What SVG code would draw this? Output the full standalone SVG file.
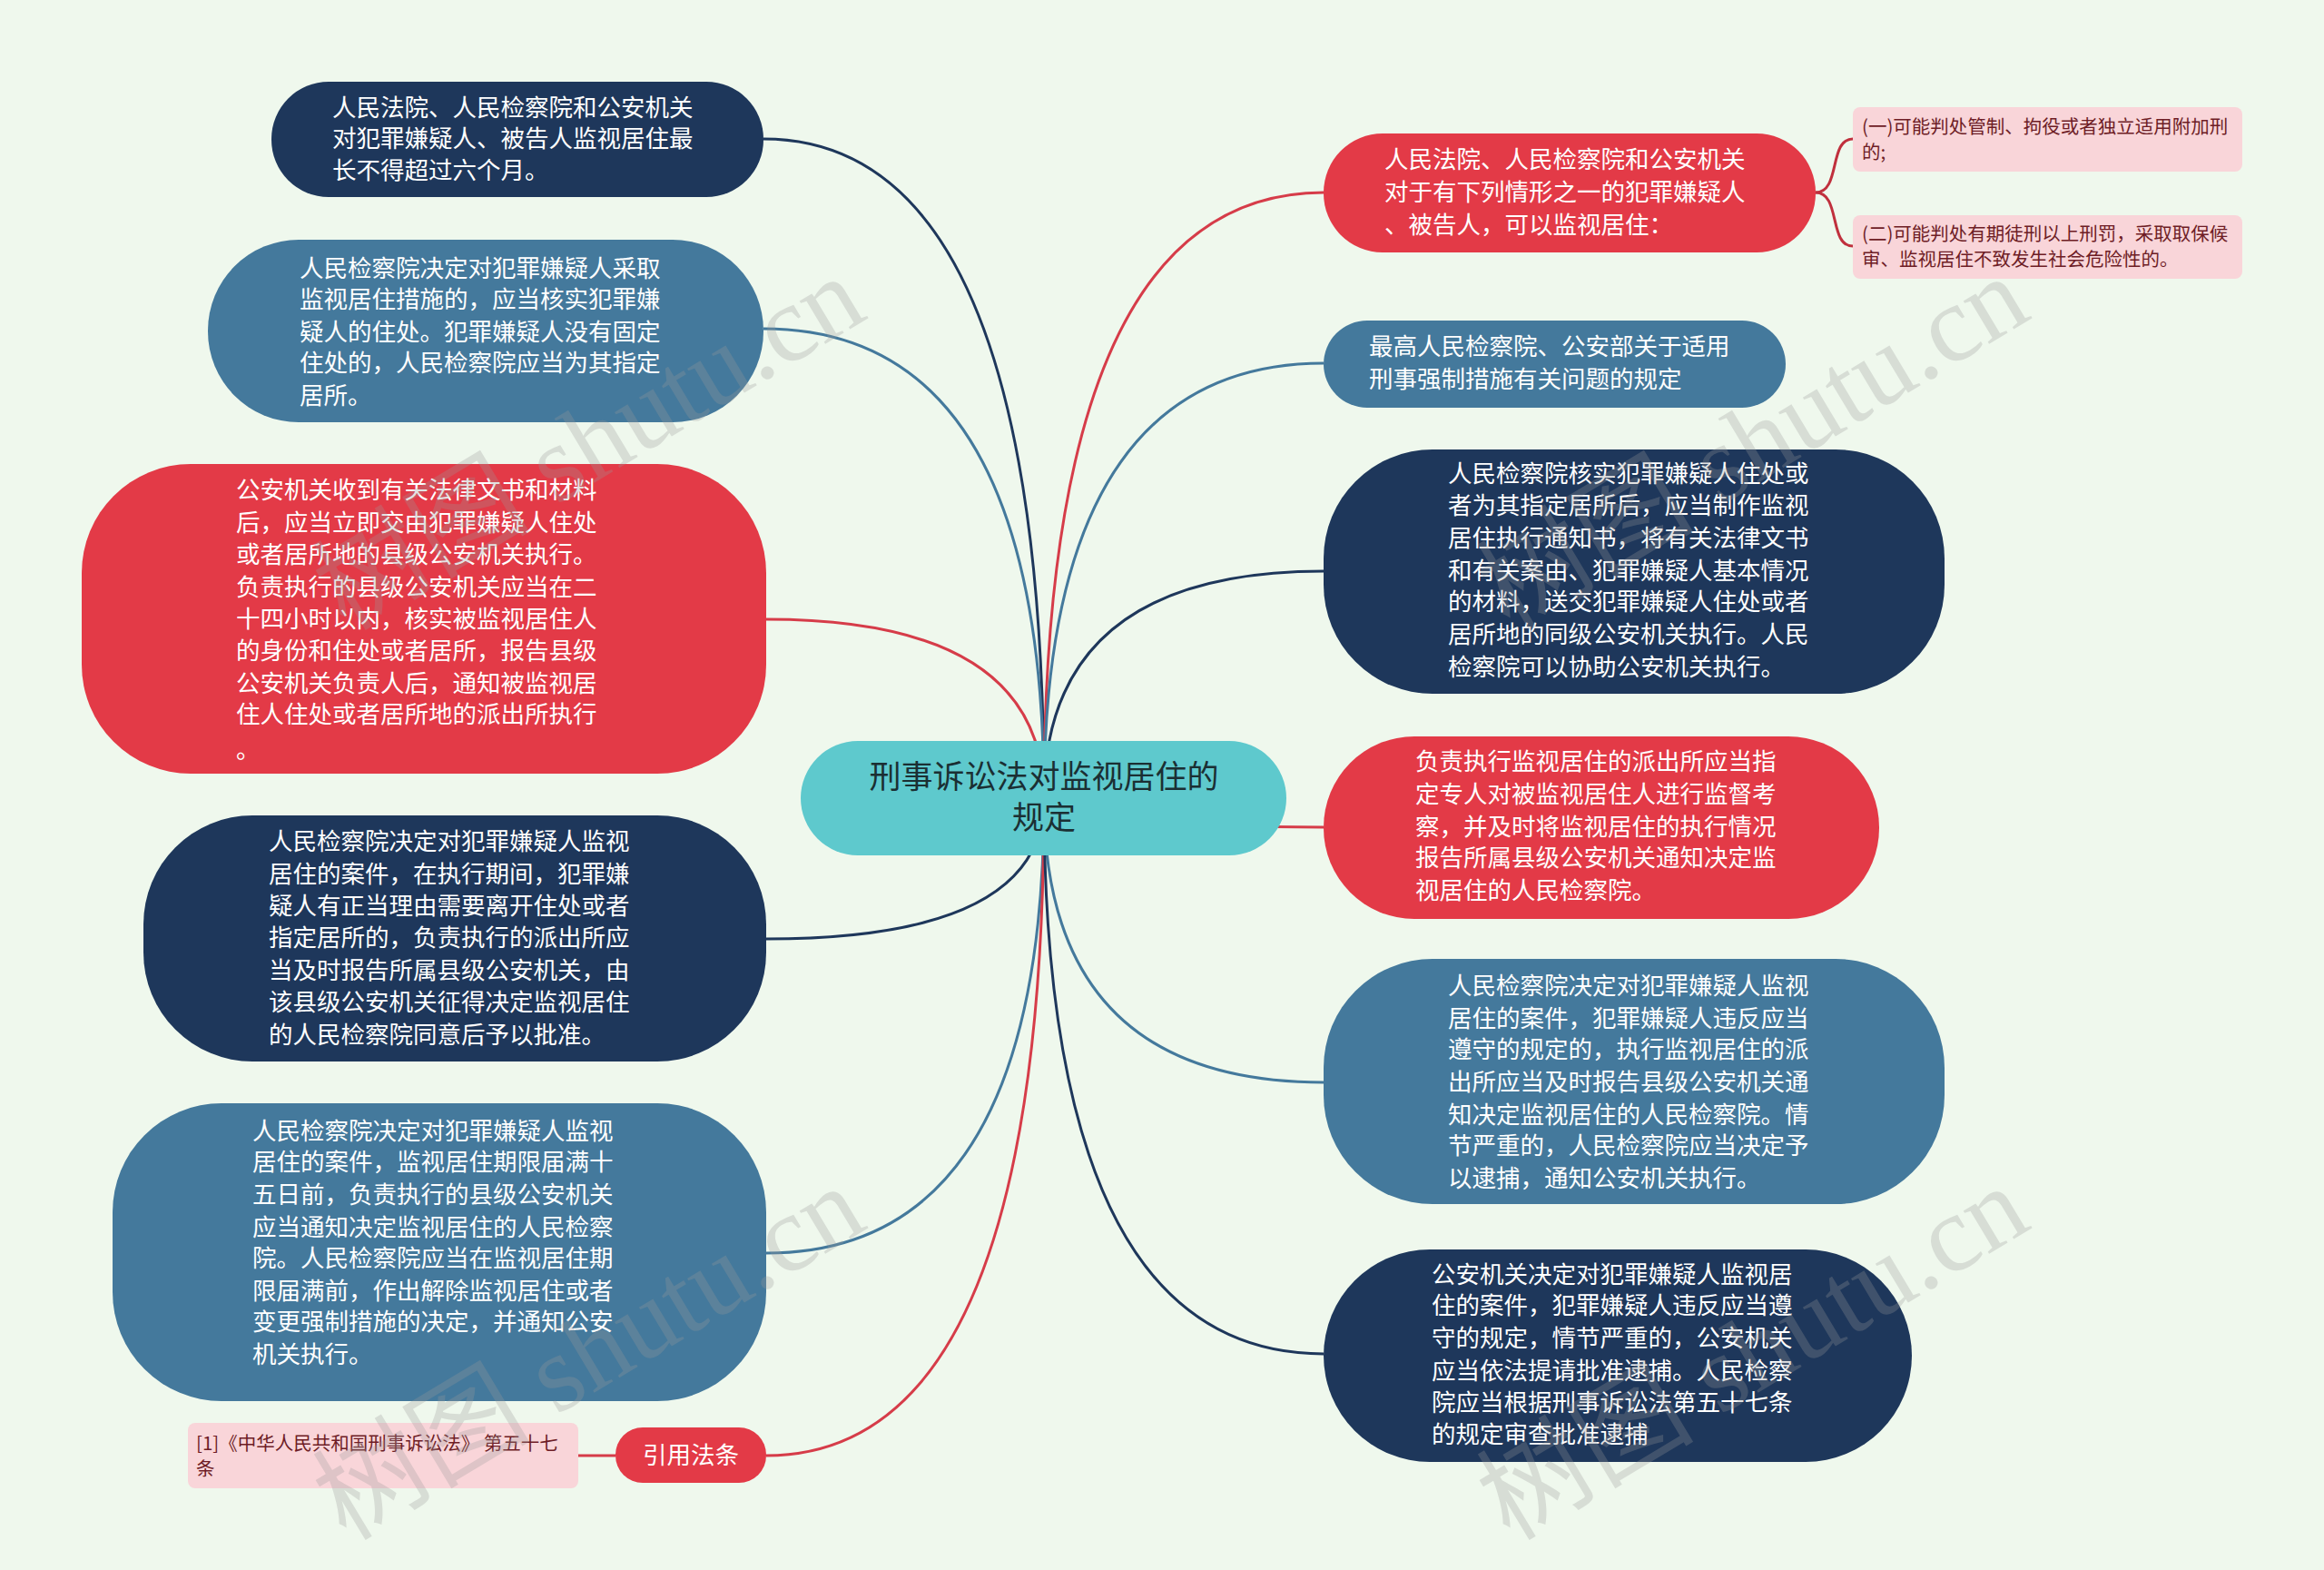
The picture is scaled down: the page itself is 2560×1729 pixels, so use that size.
<svg xmlns="http://www.w3.org/2000/svg" width="2560" height="1729" viewBox="0 0 2560 1729">
<style>
.bg{fill:#eff8ed}
.navy{fill:#1e375b}
.blue{fill:#44799c}
.red{fill:#e33a47}
.teal{fill:#5ec9cd}
.pink{fill:#f9d5d9}
.t{font-family:"Noto Sans CJK SC","Noto Sans",sans-serif;font-size:26.5px;fill:#ffffff}
.tc{font-family:"Noto Sans CJK SC","Noto Sans",sans-serif;font-size:35px;fill:#1b2f33;text-anchor:middle}
.tp{font-family:"Noto Sans CJK SC","Noto Sans",sans-serif;font-size:20.5px;fill:#6e1d26}
.c{fill:none;stroke-width:3}
.cn{stroke:#1e375b}
.cb{stroke:#44799c}
.cr{stroke:#d63c49}
.wm{font-family:"Liberation Serif","Noto Sans CJK SC",serif;font-size:120px;fill:#9a9a9a;opacity:0.28}
</style>
<rect class="bg" x="0" y="0" width="2560" height="1729"/>
<g id="connectors">
<path class="c cn" d="M1150 880 Q1150 153 841 153"/>
<path class="c cb" d="M1150 880 Q1150 362 841 362"/>
<path class="c cr" d="M1150 880 Q1150 682 844 682"/>
<path class="c cn" d="M1150 880 Q1150 1034 844 1034"/>
<path class="c cb" d="M1150 880 Q1150 1380 844 1380"/>
<path class="c cr" d="M1150 880 Q1150 1603 844 1603"/>
<path class="c cr" d="M1150 880 Q1150 212 1458 212"/>
<path class="c cb" d="M1150 880 Q1150 400 1458 400"/>
<path class="c cn" d="M1150 880 Q1150 629 1458 629"/>
<path class="c cr" d="M1150 880 Q1150 911 1458 911"/>
<path class="c cb" d="M1150 880 Q1150 1192 1458 1192"/>
<path class="c cn" d="M1150 880 Q1150 1491 1458 1491"/>
<path class="c cr" d="M678 1603 L637 1603"/>
<path class="c" stroke="#c0303d" d="M2000 212 C2028 212 2014 153 2041 153"/>
<path class="c" stroke="#c0303d" d="M2000 212 C2028 212 2014 271 2041 271"/>
</g>
<g id="center">
<rect class="teal" x="882" y="816" width="535" height="126" rx="63"/>
<text class="tc"><tspan x="1150" y="868">刑事诉讼法对监视居住的</tspan><tspan x="1150" y="913">规定</tspan></text>
</g>
<g id="n1">
<rect class="navy" x="299" y="90" width="542" height="127" rx="63"/>
<text class="t"><tspan x="366" y="128">人民法院、人民检察院和公安机关</tspan><tspan x="366" y="162">对犯罪嫌疑人、被告人监视居住最</tspan><tspan x="366" y="197">长不得超过六个月。</tspan></text>
</g>
<g id="n2">
<rect class="blue" x="229" y="264" width="612" height="201" rx="100"/>
<text class="t"><tspan x="330" y="305">人民检察院决定对犯罪嫌疑人采取</tspan><tspan x="330" y="339">监视居住措施的，应当核实犯罪嫌</tspan><tspan x="330" y="375">疑人的住处。犯罪嫌疑人没有固定</tspan><tspan x="330" y="409">住处的，人民检察院应当为其指定</tspan><tspan x="330" y="445">居所。</tspan></text>
</g>
<g id="n3">
<rect class="red" x="90" y="511" width="754" height="341" rx="120"/>
<text class="t"><tspan x="260" y="549">公安机关收到有关法律文书和材料</tspan><tspan x="260" y="585">后，应当立即交由犯罪嫌疑人住处</tspan><tspan x="260" y="620">或者居所地的县级公安机关执行。</tspan><tspan x="260" y="656">负责执行的县级公安机关应当在二</tspan><tspan x="260" y="691">十四小时以内，核实被监视居住人</tspan><tspan x="260" y="726">的身份和住处或者居所，报告县级</tspan><tspan x="260" y="762">公安机关负责人后，通知被监视居</tspan><tspan x="260" y="796">住人住处或者居所地的派出所执行</tspan><tspan x="260" y="835">。</tspan></text>
</g>
<g id="n4">
<rect class="navy" x="158" y="898" width="686" height="271" rx="120"/>
<text class="t"><tspan x="296" y="936">人民检察院决定对犯罪嫌疑人监视</tspan><tspan x="296" y="972">居住的案件，在执行期间，犯罪嫌</tspan><tspan x="296" y="1007">疑人有正当理由需要离开住处或者</tspan><tspan x="296" y="1042">指定居所的，负责执行的派出所应</tspan><tspan x="296" y="1078">当及时报告所属县级公安机关，由</tspan><tspan x="296" y="1113">该县级公安机关征得决定监视居住</tspan><tspan x="296" y="1149">的人民检察院同意后予以批准。</tspan></text>
</g>
<g id="n5">
<rect class="blue" x="124" y="1215" width="720" height="328" rx="120"/>
<text class="t"><tspan x="278" y="1255">人民检察院决定对犯罪嫌疑人监视</tspan><tspan x="278" y="1289">居住的案件，监视居住期限届满十</tspan><tspan x="278" y="1325">五日前，负责执行的县级公安机关</tspan><tspan x="278" y="1361">应当通知决定监视居住的人民检察</tspan><tspan x="278" y="1395">院。人民检察院应当在监视居住期</tspan><tspan x="278" y="1431">限届满前，作出解除监视居住或者</tspan><tspan x="278" y="1465">变更强制措施的决定，并通知公安</tspan><tspan x="278" y="1501">机关执行。</tspan></text>
</g>
<g id="n6">
<rect class="red" x="678" y="1572" width="166" height="61" rx="30"/>
<text class="t" text-anchor="middle" x="761" y="1612">引用法条</text>
</g>
<g id="n6a">
<rect class="pink" x="207" y="1567" width="430" height="72" rx="8"/>
<text class="tp" font-size="21"><tspan x="216" y="1597">[1]《中华人民共和国刑事诉讼法》 第五十七</tspan><tspan x="216" y="1625">条</tspan></text>
</g>
<g id="n7">
<rect class="red" x="1458" y="147" width="542" height="131" rx="65"/>
<text class="t"><tspan x="1525" y="185">人民法院、人民检察院和公安机关</tspan><tspan x="1525" y="221">对于有下列情形之一的犯罪嫌疑人</tspan><tspan x="1525" y="257">、被告人，可以监视居住：</tspan></text>
</g>
<g id="n7a">
<rect class="pink" x="2041" y="118" width="429" height="71" rx="8"/>
<text class="tp"><tspan x="2051" y="147">(一)可能判处管制、拘役或者独立适用附加刑</tspan><tspan x="2051" y="175">的;</tspan></text>
</g>
<g id="n7b">
<rect class="pink" x="2041" y="237" width="429" height="70" rx="8"/>
<text class="tp"><tspan x="2051" y="265">(二)可能判处有期徒刑以上刑罚，采取取保候</tspan><tspan x="2051" y="293">审、监视居住不致发生社会危险性的。</tspan></text>
</g>
<g id="n8">
<rect class="blue" x="1458" y="353" width="509" height="96" rx="48"/>
<text class="t"><tspan x="1508" y="391">最高人民检察院、公安部关于适用</tspan><tspan x="1508" y="427">刑事强制措施有关问题的规定</tspan></text>
</g>
<g id="n9">
<rect class="navy" x="1458" y="495" width="684" height="269" rx="120"/>
<text class="t"><tspan x="1595" y="531">人民检察院核实犯罪嫌疑人住处或</tspan><tspan x="1595" y="566">者为其指定居所后，应当制作监视</tspan><tspan x="1595" y="602">居住执行通知书，将有关法律文书</tspan><tspan x="1595" y="638">和有关案由、犯罪嫌疑人基本情况</tspan><tspan x="1595" y="672">的材料，送交犯罪嫌疑人住处或者</tspan><tspan x="1595" y="708">居所地的同级公安机关执行。人民</tspan><tspan x="1595" y="744">检察院可以协助公安机关执行。</tspan></text>
</g>
<g id="n10">
<rect class="red" x="1458" y="811" width="612" height="201" rx="100"/>
<text class="t"><tspan x="1559" y="848">负责执行监视居住的派出所应当指</tspan><tspan x="1559" y="884">定专人对被监视居住人进行监督考</tspan><tspan x="1559" y="920">察，并及时将监视居住的执行情况</tspan><tspan x="1559" y="954">报告所属县级公安机关通知决定监</tspan><tspan x="1559" y="990">视居住的人民检察院。</tspan></text>
</g>
<g id="n11">
<rect class="blue" x="1458" y="1056" width="684" height="270" rx="120"/>
<text class="t"><tspan x="1595" y="1095">人民检察院决定对犯罪嫌疑人监视</tspan><tspan x="1595" y="1131">居住的案件，犯罪嫌疑人违反应当</tspan><tspan x="1595" y="1165">遵守的规定的，执行监视居住的派</tspan><tspan x="1595" y="1201">出所应当及时报告县级公安机关通</tspan><tspan x="1595" y="1237">知决定监视居住的人民检察院。情</tspan><tspan x="1595" y="1271">节严重的，人民检察院应当决定予</tspan><tspan x="1595" y="1307">以逮捕，通知公安机关执行。</tspan></text>
</g>
<g id="n12">
<rect class="navy" x="1458" y="1376" width="648" height="234" rx="117"/>
<text class="t"><tspan x="1577" y="1413">公安机关决定对犯罪嫌疑人监视居</tspan><tspan x="1577" y="1447">住的案件，犯罪嫌疑人违反应当遵</tspan><tspan x="1577" y="1483">守的规定，情节严重的，公安机关</tspan><tspan x="1577" y="1519">应当依法提请批准逮捕。人民检察</tspan><tspan x="1577" y="1554">院应当根据刑事诉讼法第五十七条</tspan><tspan x="1577" y="1589">的规定审查批准逮捕</tspan></text>
</g>
<g id="watermark">
<text class="wm" transform="translate(381 696) rotate(-31)">树图 shutu.cn</text>
<text class="wm" transform="translate(381 1698) rotate(-31)">树图 shutu.cn</text>
<text class="wm" transform="translate(1663 696) rotate(-31)">树图 shutu.cn</text>
<text class="wm" transform="translate(1663 1698) rotate(-31)">树图 shutu.cn</text>
</g>
</svg>
